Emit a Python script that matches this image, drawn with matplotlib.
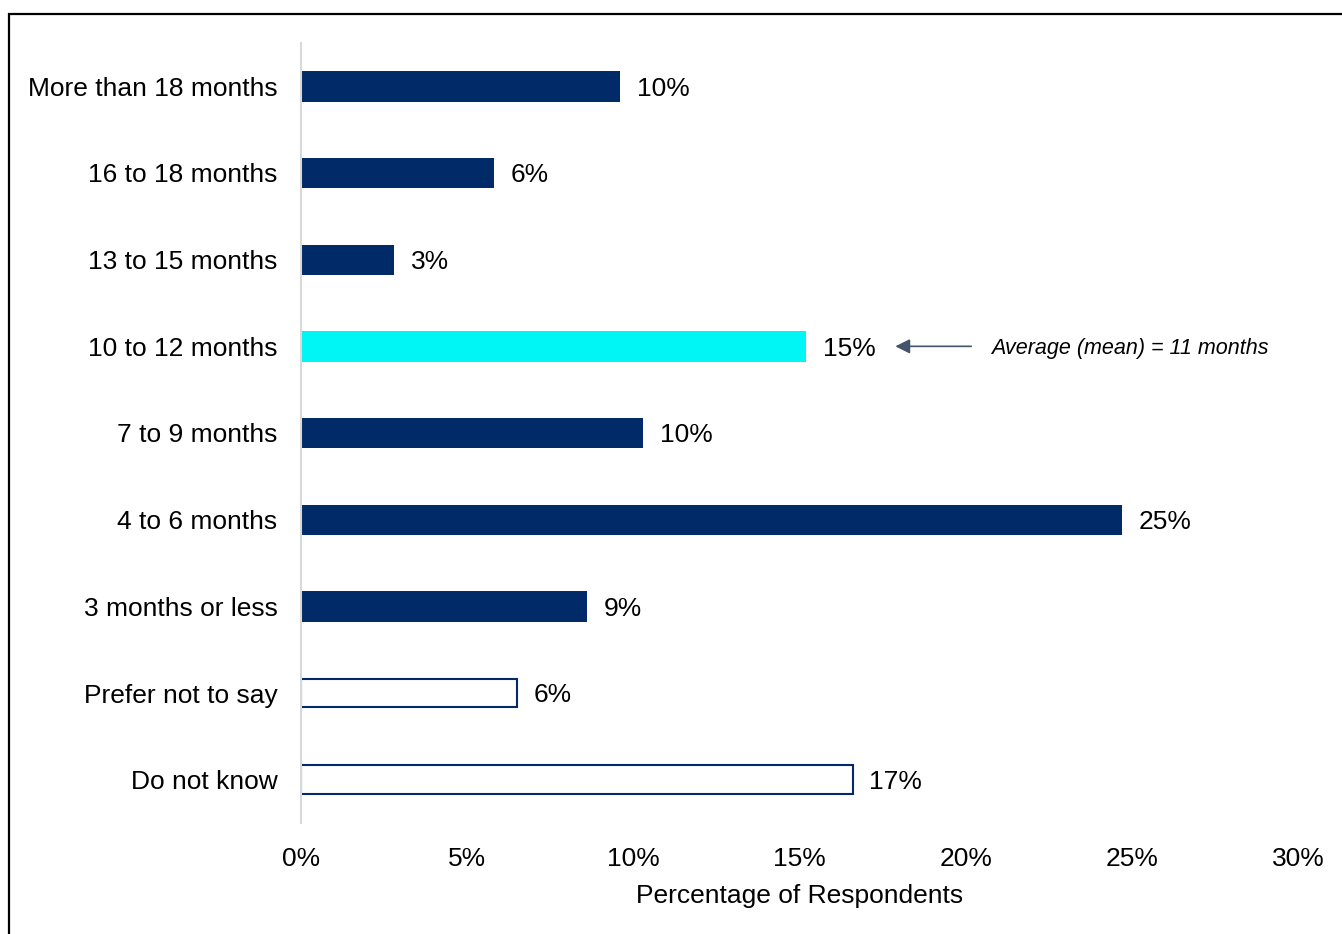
import numpy as np
import matplotlib.pyplot as plt
from matplotlib.patches import Rectangle

plt.rcParams['font.family'] = ['Liberation Sans', 'DejaVu Sans']

# Data (top to bottom)
categories = ['More than 18 months', '16 to 18 months', '13 to 15 months',
              '10 to 12 months', '7 to 9 months', '4 to 6 months',
              '3 months or less', 'Prefer not to say', 'Do not know']
values = [9.6, 5.8, 2.8, 15.2, 10.3, 24.7, 8.6, 6.5, 16.6]
labels = ['10%', '6%', '3%', '15%', '10%', '25%', '9%', '6%', '17%']
kinds = ['solid', 'solid', 'solid', 'highlight', 'solid', 'solid', 'solid', 'outline', 'outline']
xticks = [0, 5, 10, 15, 20, 25, 30]

navy = '#002B68'
cyan = '#00F5F5'

fig = plt.figure(figsize=(13.42, 9.34), dpi=100)
ax = fig.add_axes([301 / 1342, 1 - 823 / 934, (1298 - 301) / 1342, (823 - 43) / 934])

y = np.arange(len(categories))
for yi, v, lab, k in zip(y, values, labels, kinds):
    if k == 'solid':
        ax.barh(yi, v, height=0.35, color=navy)
    elif k == 'highlight':
        ax.barh(yi, v, height=0.35, color=cyan)
    else:
        ax.barh(yi, v, height=0.33, facecolor='white', edgecolor=navy, linewidth=1.5)
    ax.text(v + 0.5, yi, lab, va='center_baseline', ha='left', fontsize=19)

ax.set_ylim(len(categories) - 0.5, -0.5)
ax.set_xlim(0, 30)
ax.set_yticks(y)
ax.set_yticklabels(categories, fontsize=19)
ax.set_xticks(xticks)
ax.set_xticklabels([f'{t}%' for t in xticks], fontsize=19)
ax.tick_params(length=0)
ax.tick_params(axis='y', pad=17)
ax.tick_params(axis='x', pad=17)
ax.set_xlabel('Percentage of Respondents', fontsize=19, labelpad=10)

for s in ['top', 'right', 'bottom']:
    ax.spines[s].set_visible(False)
ax.spines['left'].set_color('#D9D9D9')
ax.spines['left'].set_linewidth(1.5)

# Mean annotation
ax.annotate('', xy=(17.8, 3), xytext=(20.25, 3),
            arrowprops=dict(arrowstyle='-|>', color='#44546A', lw=1.2, mutation_scale=22))
ax.text(20.75, 3.0, 'Average (mean) = 11 months', style='italic', fontsize=15.5,
        va='center_baseline', ha='left')

# Outer frame
fig.patches.append(Rectangle((9 / 1342, -0.05), 1.2, 1 - 14 / 934 + 0.05,
                             transform=fig.transFigure, fill=False,
                             edgecolor='black', linewidth=1.6))

fig.savefig('out.png', dpi=100)
